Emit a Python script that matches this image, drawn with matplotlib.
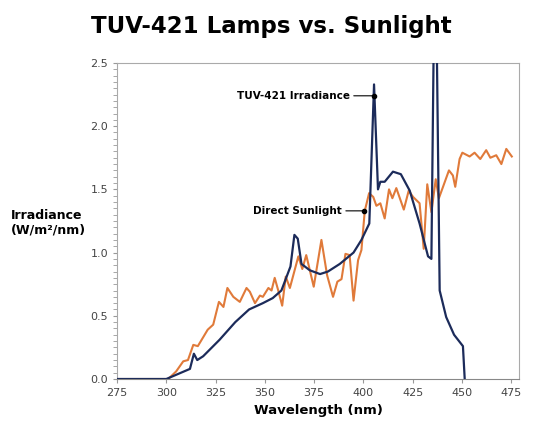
import matplotlib.pyplot as plt
from matplotlib.ticker import MultipleLocator

# lamp spectrum
lamp_wl = [275, 297, 300, 312, 314, 315.7, 318.7, 327, 335, 342, 349, 354, 358.4, 363, 365, 366.7,
           368.6, 372.8, 378, 382, 388, 395, 399, 403, 405.4, 407.4, 408.6, 410.8, 415, 419, 423.5,
           428.5, 432.8, 434.5, 435.6, 437.3, 438.7, 442, 446, 450.5, 451.4]
lamp_irr = [0, 0, 0, 0.08, 0.2, 0.15, 0.18, 0.31, 0.45, 0.55, 0.6, 0.64, 0.70, 0.89, 1.14, 1.11,
            0.91, 0.86, 0.83, 0.85, 0.91, 1.0, 1.1, 1.23, 2.33, 1.5, 1.56, 1.56, 1.64, 1.62, 1.49,
            1.23, 0.97, 0.95, 2.55, 2.55, 0.70, 0.49, 0.35, 0.26, 0]

# sunlight spectrum
sun_wl = [275, 297, 301, 305, 308.6, 311, 313.7, 316, 318.7, 321, 323.8, 326.7, 329, 331, 334, 337.3,
          340.7, 342.4, 345, 347.5, 349, 351.8, 353.4, 355, 356.8, 358.8, 360.6, 362.7, 367, 369, 371,
          374.8, 378.7, 381.6, 384.6, 386.8, 388.9, 390.9, 393, 395, 397.3, 399, 400.7, 402.9, 405,
          406.6, 408.6, 410.8, 413, 414.7, 416.7, 420.5, 423, 425.2, 428.5, 430.6, 432.4, 434.5,
          436.7, 438.3, 440.4, 443.4, 445.4, 446.6, 448.8, 450.2, 453.9, 456.4, 459.3, 462.3, 464.4,
          467.4, 470, 472.5, 475.3]
sun_irr = [0, 0, 0, 0.06, 0.14, 0.15, 0.27, 0.26, 0.33, 0.39, 0.43, 0.61, 0.57, 0.72, 0.65, 0.61,
           0.72, 0.69, 0.60, 0.66, 0.65, 0.72, 0.70, 0.80, 0.70, 0.58, 0.81, 0.72, 0.97, 0.87, 0.98,
           0.73, 1.10, 0.82, 0.65, 0.77, 0.79, 0.99, 0.98, 0.62, 0.94, 1.02, 1.33, 1.47, 1.44,
           1.37, 1.39, 1.27, 1.5, 1.43, 1.51, 1.34, 1.49, 1.44, 1.39, 1.03, 1.54, 1.32,
           1.58, 1.43, 1.52, 1.65, 1.61, 1.52, 1.74, 1.79, 1.76, 1.79, 1.74, 1.81, 1.75,
           1.77, 1.70, 1.82, 1.76]

xticks = [275, 300, 325, 350, 375, 400, 425, 450, 475]
yticks = [0.0, 0.5, 1.0, 1.5, 2.0, 2.5]

blue = '#1c2b5a'
orange = '#e07a3a'

fig = plt.figure(figsize=(5.43, 4.37), dpi=100)
ax = fig.add_axes([0.2155, 0.1327, 0.7405, 0.7233])
ax.plot(lamp_wl, lamp_irr, color=blue, lw=1.6, zorder=3)
ax.plot(sun_wl, sun_irr, color=orange, lw=1.5, zorder=2)

ax.set_xlim(275, 479)
ax.set_ylim(0, 2.5)
ax.set_xticks(xticks)
ax.set_yticks(yticks)
ax.set_yticklabels([f"{v:.1f}" for v in yticks])
ax.yaxis.set_minor_locator(MultipleLocator(0.05))
ax.tick_params(labelsize=8, color='#999999', labelcolor='#444444', length=3)
ax.tick_params(axis='y', which='minor', length=3, color='#999999')
for s in ax.spines.values():
    s.set_color('#aaaaaa')
ax.spines['bottom'].set_color('#888888')

ax.set_xlabel("Wavelength (nm)", fontsize=9.5, fontweight='bold', labelpad=4)
fig.text(0.02, 0.49, "Irradiance\n(W/m²/nm)", fontsize=9, fontweight='bold', ha='left', va='center')
fig.suptitle("TUV-421 Lamps vs. Sunlight", fontsize=16.5, fontweight='bold', y=0.965)

# annotations
ax.plot([405.4], [2.24], 'o', color='black', ms=3, zorder=4)
ax.annotate("TUV-421 Irradiance", xy=(405.4, 2.24), xytext=(393, 2.24), fontsize=7.5,
            fontweight='bold', ha='right', va='center',
            arrowprops=dict(arrowstyle='-', color='black', lw=0.8, shrinkA=1, shrinkB=0))
ax.plot([400.3], [1.33], 'o', color='black', ms=3, zorder=4)
ax.annotate("Direct Sunlight", xy=(400.3, 1.33), xytext=(389, 1.33), fontsize=7.5,
            fontweight='bold', ha='right', va='center',
            arrowprops=dict(arrowstyle='-', color='black', lw=0.8, shrinkA=1, shrinkB=0))

fig.savefig("out.png", dpi=100)
